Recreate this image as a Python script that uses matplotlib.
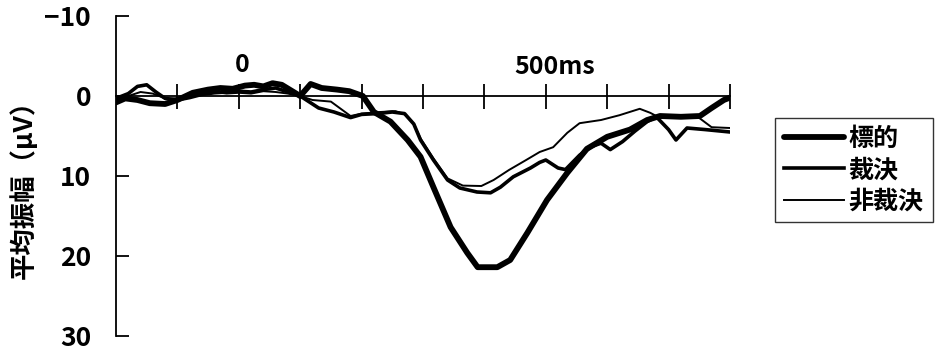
import numpy as np
import matplotlib
matplotlib.use('Agg')
import matplotlib.pyplot as plt

plt.rcParams['font.family'] = ['Noto Sans CJK JP', 'DejaVu Sans']
plt.rcParams['axes.unicode_minus'] = True

# 標的 (target) - thick
t_target = [-200, -185, -165, -145, -120, -100, -75, -50, -30, -10, 10, 25, 40, 55, 70, 85, 100,
            117, 135, 160, 180, 202, 220, 247, 275, 296, 317, 345, 372, 389, 421, 442, 470, 502,
            535, 567, 600, 637, 665, 686, 720, 751, 770, 790, 800]
v_target = [0.8, 0.3, 0.5, 0.9, 1.0, 0.5, -0.4, -0.8, -1.0, -0.9, -1.3, -1.4, -1.2, -1.6, -1.4, -0.7, 0.0,
            -1.5, -1.0, -0.8, -0.6, 0.0, 2.0, 3.2, 5.5, 7.6, 11.4, 16.4, 19.6, 21.4, 21.4, 20.5, 17.1, 13.0,
            9.6, 6.6, 5.1, 4.2, 3.0, 2.5, 2.6, 2.5, 1.5, 0.5, 0.2]

# 裁決 (judged) - medium
t_judge = [-200, -180, -165, -150, -135, -120, -100, -80, -60, -40, -20, 0, 20, 40, 60, 80, 100,
           130, 155, 182, 200, 225, 250, 270, 285, 296, 317, 340, 360, 388, 410, 426, 447, 475,
           490, 500, 520, 532, 555, 575, 590, 605, 625, 645, 665, 680, 700, 712, 730, 760, 800]
v_judge = [0.3, -0.3, -1.2, -1.4, -0.5, 0.3, 0.5, 0.2, -0.2, -0.4, -0.5, -0.6, -0.5, -0.8, -1.0, -0.5, 0.0,
           1.5, 2.0, 2.7, 2.3, 2.2, 2.0, 2.2, 3.5, 5.5, 8.0, 10.5, 11.5, 12.0, 12.1, 11.4, 10.1, 9.0,
           8.3, 8.0, 9.0, 9.2, 7.4, 6.3, 5.9, 6.7, 5.7, 4.4, 3.2, 2.6, 4.2, 5.5, 4.0, 4.2, 4.5]

# 非裁決 (non-judged) - thin
t_nonjudge = [-200, -180, -160, -140, -120, -100, -80, -60, -40, -20, 0, 20, 40, 60, 80, 100,
              120, 150, 182, 200, 230, 255, 270, 285, 296, 317, 340, 365, 395, 415, 440, 468,
              490, 512, 535, 555, 590, 620, 653, 670, 685, 750, 770, 800]
v_nonjudge = [0.5, 0.0, -0.5, -0.3, 0.3, 0.3, 0.0, -0.3, -0.5, -0.3, -0.4, -0.3, -0.6, -0.5, -0.3, 0.0,
              0.5, 0.7, 2.5, 2.2, 2.0, 1.9, 2.3, 3.5, 5.3, 7.8, 10.3, 11.2, 11.25, 10.5, 9.25, 8.0,
              7.0, 6.4, 4.6, 3.4, 3.0, 2.4, 1.6, 2.1, 2.7, 2.75, 3.9, 4.0]

labels = ['標的', '裁決', '非裁決']
y_ticks = [-10, 0, 10, 20, 30]
x_ticks = list(range(-100, 801, 100))

fig = plt.figure(figsize=(9.43, 3.54), dpi=100)
ax = fig.add_axes([116/943, 18/354, 614/943, 320/354])

ax.plot(t_target, v_target, color='black', lw=4.2, label=labels[0],
        solid_joinstyle='round', solid_capstyle='round')
ax.plot(t_judge, v_judge, color='black', lw=2.6, label=labels[1], solid_joinstyle='round')
ax.plot(t_nonjudge, v_nonjudge, color='black', lw=1.4, label=labels[2], solid_joinstyle='round')

ax.set_xlim(-200, 800)
ax.set_ylim(30, -10)

# x軸は0の位置
ax.spines['bottom'].set_position(('data', 0))
ax.spines['bottom'].set_linewidth(1.3)
ax.spines['left'].set_linewidth(1.3)
ax.spines['top'].set_visible(False)
ax.spines['right'].set_visible(False)
ax.set_xticks(x_ticks)
ax.set_xticklabels([])
ax.tick_params(axis='x', direction='inout', length=18, width=1.3)
ax.set_yticks(y_ticks)
ax.set_yticklabels(['\u221210', '0', '10', '20', '30'], fontsize=19, fontweight='bold')
ax.tick_params(axis='y', direction='in', length=9, width=1.3, pad=18)

ax.text(6, -3.9, '0', fontsize=18, fontweight='bold', ha='center', va='center')
ax.text(514, -3.6, '500ms', fontsize=18, fontweight='bold', ha='center', va='center')

fig.text(24/943, 1 - 183/354, '平均振幅（μV）', rotation=90, fontsize=19, fontweight='bold',
         ha='center', va='center')

leg = fig.legend(loc='upper left', bbox_to_anchor=(775/943, 1 - 118/354), frameon=True,
                 fancybox=False, shadow=False, handlelength=2.4, handletextpad=0.2,
                 labelspacing=0.3, borderpad=0.35, borderaxespad=0,
                 prop={'size': 18, 'weight': 'bold'})
leg.get_frame().set_edgecolor('black')
leg.get_frame().set_linewidth(1.0)

plt.savefig('out.png', dpi=100)
